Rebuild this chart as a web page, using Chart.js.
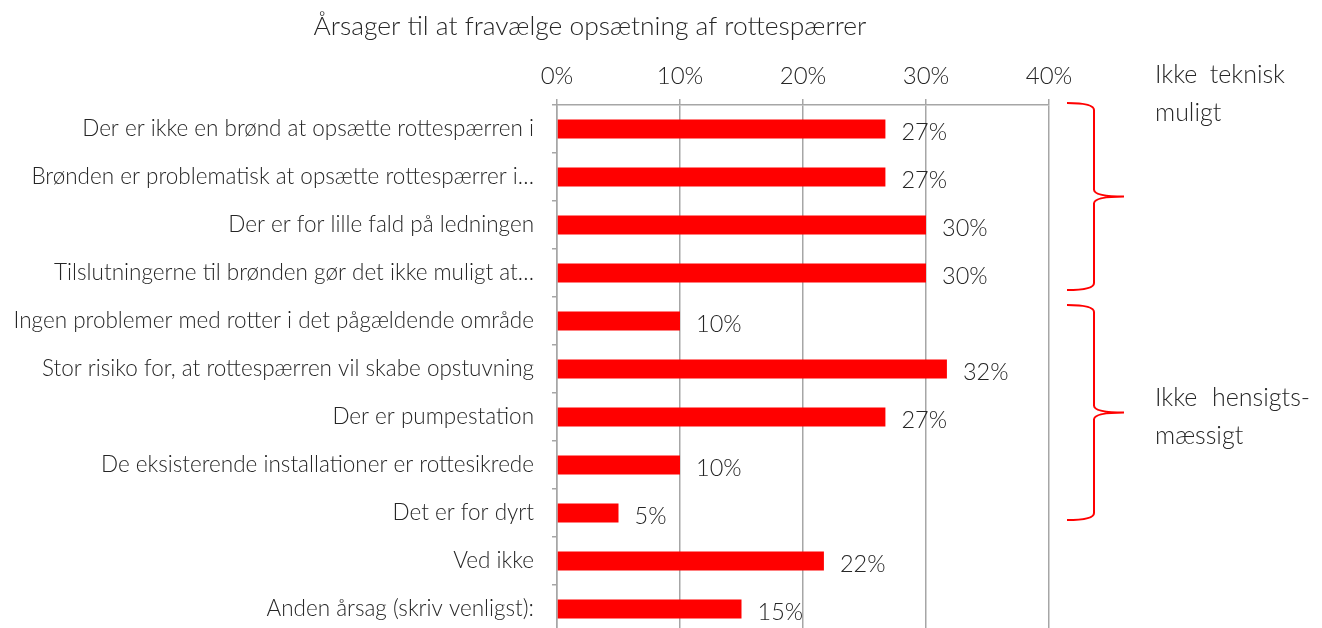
<!DOCTYPE html>
<html>
<head>
<meta charset="utf-8">
<script src="https://cdn.jsdelivr.net/npm/chart.js@4.4.1/dist/chart.umd.min.js"></script>
<style>
  html, body { margin: 0; padding: 0; background: #fff; overflow: hidden; }
</style>
</head>
<body>
<canvas id="chart" width="1322" height="634"></canvas>
<script>
// Data
const chartTitle = 'Årsager til at fravælge opsætning af rottespærrer';
const reasons = [
    'Der er ikke en brønd at opsætte rottespærren i',
    'Brønden er problematisk at opsætte rottespærrer i…',
    'Der er for lille fald på ledningen',
    'Tilslutningerne til brønden gør det ikke muligt at…',
    'Ingen problemer med rotter i det pågældende område',
    'Stor risiko for, at rottespærren vil skabe opstuvning',
    'Der er pumpestation',
    'De eksisterende installationer er rottesikrede',
    'Det er for dyrt',
    'Ved ikke',
    'Anden årsag (skriv venligst):'
];
const shares = [26.7, 26.7, 30.0, 30.0, 10.0, 31.7, 26.7, 10.0, 5.0, 21.7, 15.0];
const xTicks = [0, 10, 20, 30, 40];

// Grupper markeret med klammer til højre
const groupFrom = [0, 4];
const groupTo = [3, 8];
const groupLines = [['Ikke teknisk', 'muligt'], ['Ikke hensigts-', 'mæssigt']];

const FONT = 'Lato, sans-serif';
const TEXT = '#262626';
const GRID = '#a6a6a6';

Chart.defaults.font.family = FONT;
Chart.defaults.font.weight = 300;
Chart.defaults.color = TEXT;

// Titel, værdier og klammer tegnes med et lille plugin
const annotations = {
    id: 'annotations',
    afterDatasetsDraw(chart) {
        const ctx = chart.ctx;
        const meta = chart.getDatasetMeta(0);
        ctx.save();
        ctx.fillStyle = TEXT;
        ctx.font = '300 23.5px ' + FONT;
        ctx.textAlign = 'left';
        ctx.textBaseline = 'middle';
        meta.data.forEach((bar, i) => {
            ctx.fillText(Math.round(shares[i]) + '%', bar.x + 16, bar.y + 3);
        });
        ctx.restore();
    },
    afterDraw(chart) {
        const ctx = chart.ctx;
        const area = chart.chartArea;
        const y = chart.scales.y;
        const band = y.getPixelForValue(1) - y.getPixelForValue(0);

        ctx.save();
        // titel
        ctx.fillStyle = TEXT;
        ctx.font = '300 26.4px ' + FONT;
        ctx.textAlign = 'center';
        ctx.textBaseline = 'middle';
        ctx.fillText(chartTitle, 590, 26);

        // klammer
        const trims = [[-2, 7], [8, 17]];
        const x0 = area.right + 18, xv = area.right + 45, xt = area.right + 75;
        ctx.strokeStyle = '#ff0000';
        ctx.lineWidth = 2;
        groupFrom.forEach((from, g) => {
            const top = y.getPixelForValue(from) - band / 2 + trims[g][0];
            const bottom = y.getPixelForValue(groupTo[g]) + band / 2 - trims[g][1];
            const mid = (top + bottom) / 2;
            const r = 7;
            ctx.beginPath();
            ctx.moveTo(x0, top);
            ctx.quadraticCurveTo(xv, top, xv, top + r);
            ctx.lineTo(xv, mid - r);
            ctx.quadraticCurveTo(xv, mid, xt, mid);
            ctx.quadraticCurveTo(xv, mid, xv, mid + r);
            ctx.lineTo(xv, bottom - r);
            ctx.quadraticCurveTo(xv, bottom, x0, bottom);
            ctx.stroke();

            // tekst ved klammen
            const lines = groupLines[g];
            const tx = area.right + 106;
            const widths = [130, 155];
            const ty = g === 0 ? area.top - 30 : mid - 15;
            ctx.font = '300 25px ' + FONT;
            ctx.textBaseline = 'middle';
            lines.forEach((line, k) => {
                const ly = ty + k * 38;
                const words = line.split(' ');
                if (k === 0 && words.length === 2) {
                    ctx.textAlign = 'left';
                    ctx.fillText(words[0], tx, ly);
                    ctx.textAlign = 'right';
                    ctx.fillText(words[1], tx + widths[g], ly);
                } else {
                    ctx.textAlign = 'left';
                    ctx.fillText(line, tx, ly);
                }
            });
        });
        ctx.restore();
    }
};

new Chart(document.getElementById('chart'), {
    type: 'bar',
    data: {
        labels: reasons,
        datasets: [{
            data: shares,
            backgroundColor: '#ff0000',
            borderWidth: 0,
            barPercentage: 0.8,
            categoryPercentage: 0.5
        }]
    },
    options: {
        indexAxis: 'y',
        responsive: false,
        animation: false,
        events: [],
        layout: { padding: { top: 0, left: 0, right: 273, bottom: 1 } },
        plugins: {
            legend: { display: false },
            title: { display: false },
            tooltip: { enabled: false }
        },
        scales: {
            x: {
                position: 'top',
                min: 0,
                max: 40,
                afterBuildTicks: (scale) => { scale.ticks = xTicks.map(v => ({ value: v })); },
                afterFit: (scale) => { scale.height = 105; },
                ticks: {
                    font: { size: 24 },
                    color: TEXT,
                    padding: 8,
                    callback: (v) => v + '%'
                },
                grid: { color: GRID, lineWidth: 1.5, tickLength: 6 },
                border: { color: GRID, width: 1.5 }
            },
            y: {
                afterFit: (scale) => {
                    scale.width = 557;
                    scale.paddingTop = 0;
                    scale.paddingBottom = 0;
                },
                ticks: {
                    font: { size: 22.5 },
                    color: TEXT,
                    padding: 18,
                    autoSkip: false
                },
                grid: { color: GRID, lineWidth: 1.5, drawOnChartArea: false, offset: true, tickLength: 5 },
                border: { color: GRID, width: 1.5 }
            }
        }
    },
    plugins: [annotations]
});
</script>
</body>
</html>
